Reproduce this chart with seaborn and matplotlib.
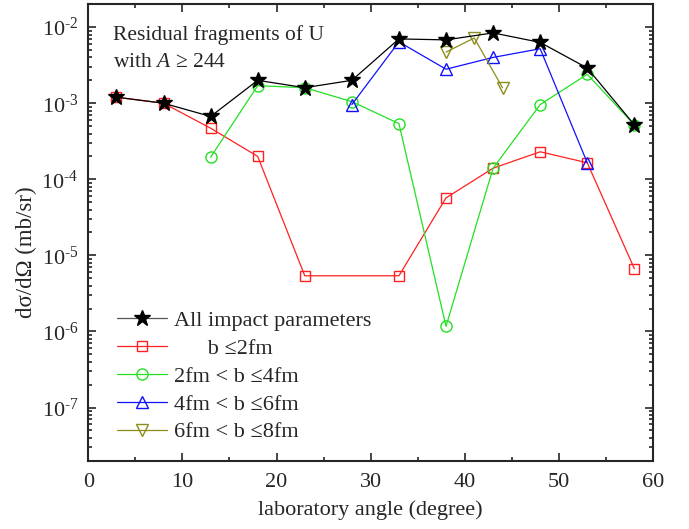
import matplotlib
matplotlib.use("Agg")
import matplotlib.pyplot as plt
import matplotlib.ticker as mticker
import numpy as np
import seaborn as sns

# laboratory angles (degree)
angle = [3, 8, 13, 18, 23, 28, 33, 38, 43, 48, 53, 58]
all_b = [1.2e-3, 1.0e-3, 6.7e-4, 2.0e-3, 1.6e-3, 2.0e-3, 7.0e-3, 6.8e-3, 8.4e-3, 6.3e-3, 2.9e-3, 5.2e-4]

angle_b2 = [3, 8, 13, 18, 23, 33, 38, 43, 48, 53, 58]
b_le2 = [1.2e-3, 1.0e-3, 4.7e-4, 2.0e-4, 5.4e-6, 5.4e-6, 5.7e-5, 1.4e-4, 2.3e-4, 1.65e-4, 6.7e-6]

angle_b4 = [13, 18, 23, 28, 33, 38, 43, 48, 53, 58]
b_2_4 = [1.95e-4, 1.7e-3, 1.6e-3, 1.05e-3, 5.4e-4, 1.17e-6, 1.4e-4, 9.6e-4, 2.4e-3, 5.2e-4]

angle_b6 = [28, 33, 38, 43, 48, 53]
b_4_6 = [9.6e-4, 6.4e-3, 2.8e-3, 4.0e-3, 5.2e-3, 1.65e-4]

angle_b8 = [38, 41, 44]
b_6_8 = [4.7e-3, 7.2e-3, 1.6e-3]

y_decades = [1e-7, 1e-6, 1e-5, 1e-4, 1e-3, 1e-2]

labels = ["All impact parameters", "      b \u22642fm", "2fm < b \u22644fm",
          "4fm < b \u22646fm", "6fm < b \u22648fm"]

sns.set_style("ticks")
plt.rcParams["font.family"] = ["Liberation Serif", "DejaVu Serif"]
plt.rcParams["mathtext.fontset"] = "custom"
plt.rcParams["mathtext.rm"] = "Liberation Serif"
plt.rcParams["mathtext.it"] = "Liberation Serif:italic"

fig = plt.figure(figsize=(6.89, 5.29), dpi=100)
ax = fig.add_axes([0.128, 0.129, 0.820, 0.863])

series = [
    (angle, all_b, "black", "*", "black", 12, 5),
    (angle_b2, b_le2, "#ff2020", "s", "none", 7.5, 3),
    (angle_b4, b_2_4, "#22e022", "o", "none", 8, 3),
    (angle_b6, b_4_6, "#1010ff", "^", "none", 9, 3),
    (angle_b8, b_6_8, "#8c8c1a", "v", "none", 9, 3),
]
for (x, y, c, m, fc, ms, z), lab in zip(series, labels):
    sns.lineplot(x=x, y=y, ax=ax, color=c, marker=m, markersize=ms,
                 markerfacecolor=fc, markeredgecolor=c, markeredgewidth=1.0,
                 linewidth=0.9, label=lab, zorder=z)

ax.set_yscale("log")
ax.set_xlim(0, 60)
ax.set_ylim(2e-8, 2e-2)
ax.xaxis.set_major_locator(mticker.MultipleLocator(10))
ax.xaxis.set_minor_locator(mticker.MultipleLocator(5))
ax.yaxis.set_major_locator(mticker.FixedLocator(y_decades))
ax.yaxis.set_minor_locator(mticker.LogLocator(base=10, subs=range(2, 10), numticks=20))
ax.yaxis.set_minor_formatter(mticker.NullFormatter())
ax.yaxis.set_major_formatter(mticker.FuncFormatter(
    lambda v, p: "$10^{\u2010%d}$" % round(-np.log10(v))))
ax.tick_params(which="both", direction="in", top=True, right=True, labelsize=16,
               width=1.2, pad=7)
ax.tick_params(axis="x", which="both", pad=9)
ax.tick_params(which="major", length=5.5)
ax.tick_params(which="minor", length=3)
for s in ax.spines.values():
    s.set_linewidth(1.5)

ax.set_xlabel("laboratory angle (degree)", fontsize=16, labelpad=6)
ax.set_ylabel("d\u03c3/d\u03a9 (mb/sr)", fontsize=16.5)
ax.yaxis.set_label_coords(-0.09, 0.457)

ax.text(0.044, 0.955, "Residual fragments of U\nwith $A$ \u2265 244", transform=ax.transAxes,
        fontsize=15.5, va="top", ha="left", linespacing=1.6)

leg = ax.legend(loc="lower left", frameon=False, fontsize=16, handlelength=2.25,
                borderaxespad=0, borderpad=0, labelspacing=0.33, handletextpad=0.3,
                bbox_to_anchor=(0.051, 0.04))
leg.get_lines()[0].set_color("#555555")
leg.get_lines()[0].set_markerfacecolor("black")
leg.get_lines()[0].set_markeredgecolor("black")

fig.savefig("out.png", dpi=100)
